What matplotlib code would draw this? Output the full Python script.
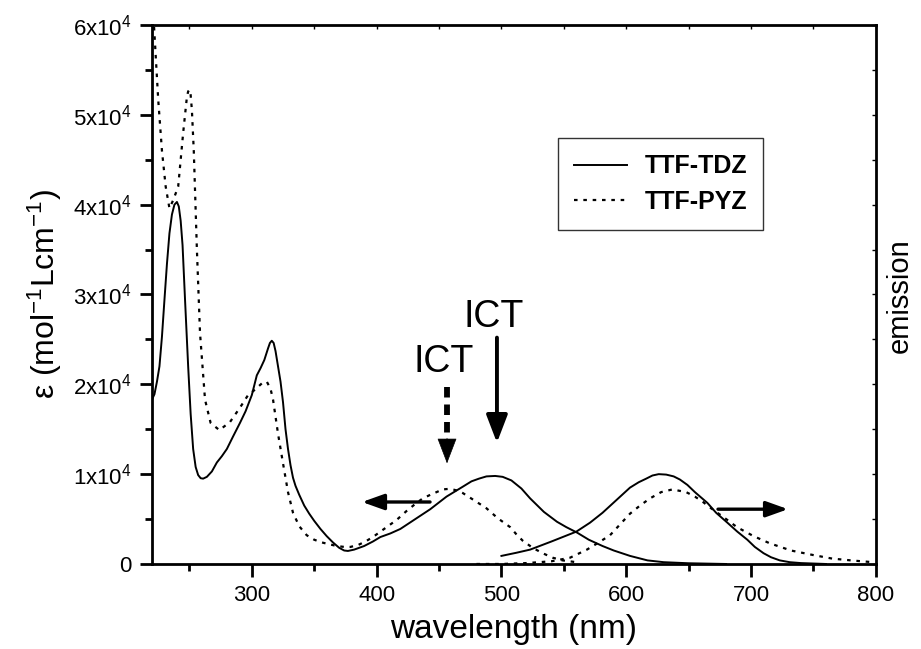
import matplotlib
matplotlib.use("Agg")
import matplotlib.pyplot as plt
from matplotlib.ticker import MultipleLocator, FixedLocator, FuncFormatter
from matplotlib.patches import FancyArrowPatch

plt.rcParams["font.family"] = ["Liberation Sans", "DejaVu Sans"]
plt.rcParams["mathtext.fontset"] = "custom"
plt.rcParams["mathtext.rm"] = "Liberation Sans"
plt.rcParams["mathtext.it"] = "Liberation Sans:italic"
plt.rcParams["mathtext.default"] = "regular"

# TTF-TDZ absorption (solid)
tdz_abs_x = [220, 222, 224, 226, 228, 230, 232, 234, 236, 238, 240, 241.5, 243, 244.5,
             246.5, 249, 251, 253, 255, 257, 259, 261, 264, 268, 272, 276, 280, 285,
             290.5, 295, 300, 304, 307, 310, 313, 314.5, 316, 317.5, 319, 321, 323, 325,
             327, 329, 331, 333, 335, 338, 342, 346, 350, 355, 360, 365, 370, 374, 377,
             382, 390, 397, 403, 411, 419, 431, 443, 456, 469, 476, 482, 488, 495, 501,
             508, 516, 523, 534, 544.5, 552, 560.5, 570, 581, 590, 603, 617, 630, 650,
             680]
tdz_abs_y = [18300, 18900, 20300, 22000, 25300, 29400, 33400, 36800, 38900, 40000, 40300,
             39800, 38200, 35500, 29400, 22000, 16700, 12800, 10800, 9900, 9550, 9500,
             9700, 10300, 11300, 12000, 12800, 14200, 15700, 17000, 18800, 21000, 21800,
             22700, 24000, 24600, 24850, 24600, 23700, 22000, 20300, 18000, 15000, 12800,
             11000, 9600, 8700, 7700, 6500, 5600, 4800, 3900, 3100, 2400, 1800, 1500, 1450,
             1600, 2000, 2500, 3000, 3400, 3900, 5000, 6100, 7500, 8600, 9200, 9500, 9750,
             9800, 9700, 9300, 8400, 7300, 5800, 4700, 4100, 3500, 2700, 2000, 1500, 900,
             400, 200, 80, 0]

# TTF-TDZ emission (solid)
tdz_em_x = [500, 512, 523, 540, 560, 571, 581, 592, 603, 610, 616, 621, 626, 632, 638,
            643, 649, 655, 660, 665, 672, 681, 689, 697, 703, 710, 716, 723, 731, 740,
            760]
tdz_em_y = [900, 1250, 1600, 2500, 3600, 4600, 5700, 7100, 8500, 9100, 9500, 9850, 10000,
            9950, 9750, 9400, 8800, 8000, 7400, 6800, 5700, 4600, 3600, 2700, 1900, 1200,
            750, 400, 200, 100, 0]

# TTF-PYZ absorption (dotted)
pyz_abs_x = [220, 222, 225, 228, 231, 234, 237, 241, 245, 248, 249, 250, 251, 252, 253.5,
             256, 258.5, 262.5, 267, 274, 282.5, 290.5, 297, 302.5, 308, 312, 315, 317,
             321, 325, 329, 333, 338, 344, 350, 356, 362, 368, 374, 379, 385, 391, 397,
             404, 410, 416, 424, 432, 437, 443, 448, 453, 457, 461, 465, 469, 478, 488,
             497, 507, 512, 517, 525, 533, 541, 549, 560]
pyz_abs_y = [64000, 59000, 51700, 46000, 42000, 39600, 40500, 42000, 48000, 52000, 52600,
             52800, 52200, 50500, 46000, 35000, 25700, 18300, 15700, 14900, 15800, 17400,
             18800, 19400, 20100, 20300, 19500, 18300, 14500, 11200, 8000, 5700, 4200,
             3200, 2700, 2400, 2200, 2000, 1900, 1900, 2100, 2500, 3000, 3700, 4300, 4900,
             5900, 6800, 7300, 7700, 8000, 8300, 8350, 8300, 8150, 7900, 7100, 6200, 5100,
             4100, 3300, 2600, 1800, 1200, 700, 400, 200]

# TTF-PYZ emission (dotted)
pyz_em_x = [480, 500, 520, 540, 555, 568.5, 578, 587, 595, 603, 611, 619, 628, 637, 648,
            655, 661.5, 668, 675, 682, 688.7, 702, 715, 732, 749.6, 765, 780, 797.7]
pyz_em_y = [0, 0, 100, 300, 700, 1600, 2400, 3200, 4400, 5600, 6500, 7300, 8000, 8300,
            8000, 7500, 6900, 6200, 5500, 4800, 4100, 3100, 2300, 1500, 1000, 600, 400, 200]

x_ticks = [300, 400, 500, 600, 700, 800]
y_ticks = [0, 10000, 20000, 30000, 40000, 50000, 60000]
series_names = ["TTF-TDZ", "TTF-PYZ"]

DOT = (0, (1.6, 2.6))
K = "black"

fig = plt.figure(figsize=(9.21, 6.49), dpi=100)
ax = fig.add_axes([0.165, 0.131, 0.786, 0.8305])

ax.plot(tdz_abs_x, tdz_abs_y, color=K, lw=1.4, label=series_names[0])
ax.plot(tdz_em_x, tdz_em_y, color=K, lw=1.4)
ax.plot(pyz_abs_x, pyz_abs_y, color=K, lw=1.6, linestyle=DOT, label=series_names[1])
ax.plot(pyz_em_x, pyz_em_y, color=K, lw=1.6, linestyle=DOT)

ax.set_xlim(220, 800)
ax.set_ylim(0, 60000)

ax.xaxis.set_major_locator(FixedLocator(x_ticks))
ax.xaxis.set_minor_locator(MultipleLocator(50))
ax.yaxis.set_major_locator(FixedLocator(y_ticks))
ax.yaxis.set_minor_locator(MultipleLocator(5000))


def sci(v, pos):
    if v == 0:
        return "0"
    return r"%dx10$^{4}$" % round(v / 1e4)


ax.yaxis.set_major_formatter(FuncFormatter(sci))

for s in ax.spines.values():
    s.set_linewidth(2.0)
ax.tick_params(axis="both", which="major", direction="out", length=9, width=2,
               labelsize=16, pad=6)
ax.tick_params(axis="both", which="minor", direction="out", length=5, width=2)
ax.tick_params(top=True, right=True, which="both")
# short inward ticks on the top and right frame
for t in ax.xaxis.get_major_ticks() + ax.xaxis.get_minor_ticks():
    t.tick2line.set_marker(3)
    t.tick2line.set_markersize(3)
    t.tick2line.set_markeredgewidth(1)
for t in ax.yaxis.get_major_ticks() + ax.yaxis.get_minor_ticks():
    t.tick2line.set_marker(0)
    t.tick2line.set_markersize(3)
    t.tick2line.set_markeredgewidth(1)

ax.set_xlabel("wavelength (nm)", fontsize=24, labelpad=6)
ax.set_ylabel(r"ε (mol$^{-1}$Lcm$^{-1}$)", fontsize=23, labelpad=6)
fig.text(0.977, 0.545, "emission", rotation=90, fontsize=21, ha="center", va="center")

# ICT markers
ax.text(494, 27500, "ICT", fontsize=27, ha="center", va="center")
ax.text(454, 22500, "ICT", fontsize=27, ha="center", va="center")
ax.add_patch(FancyArrowPatch((496.4, 25200), (496.4, 13500),
                             arrowstyle="-|>,head_length=1.2,head_width=0.46",
                             mutation_scale=14, lw=2.8, color=K,
                             shrinkA=0, shrinkB=0))
ax.plot([456.4, 456.4], [19700, 13800], color=K, lw=4.2, linestyle=(0, (1.8, 1.2)),
        dash_capstyle="butt")
ax.add_patch(FancyArrowPatch((456.4, 14000), (456.4, 11200),
                             arrowstyle="-|>,head_length=1.2,head_width=0.46",
                             mutation_scale=14, lw=0.5, color=K,
                             shrinkA=0, shrinkB=0))
ax.add_patch(FancyArrowPatch((442.8, 6900), (388.3, 6900),
                             arrowstyle="-|>,head_length=0.95,head_width=0.34",
                             mutation_scale=14, lw=2.4, color=K,
                             shrinkA=0, shrinkB=0))
ax.add_patch(FancyArrowPatch((673.5, 6100), (729.6, 6100),
                             arrowstyle="-|>,head_length=0.95,head_width=0.34",
                             mutation_scale=14, lw=2.4, color=K,
                             shrinkA=0, shrinkB=0))

leg = ax.legend(loc="upper left", bbox_to_anchor=(0.561, 0.79),
                prop={"weight": "bold", "size": 18}, frameon=True, fancybox=False,
                edgecolor=K, handlelength=2.1, handletextpad=0.7, borderpad=0.65,
                labelspacing=0.45, borderaxespad=0)
leg.get_frame().set_linewidth(1.0)

fig.savefig("out.png", dpi=100, facecolor="white")
